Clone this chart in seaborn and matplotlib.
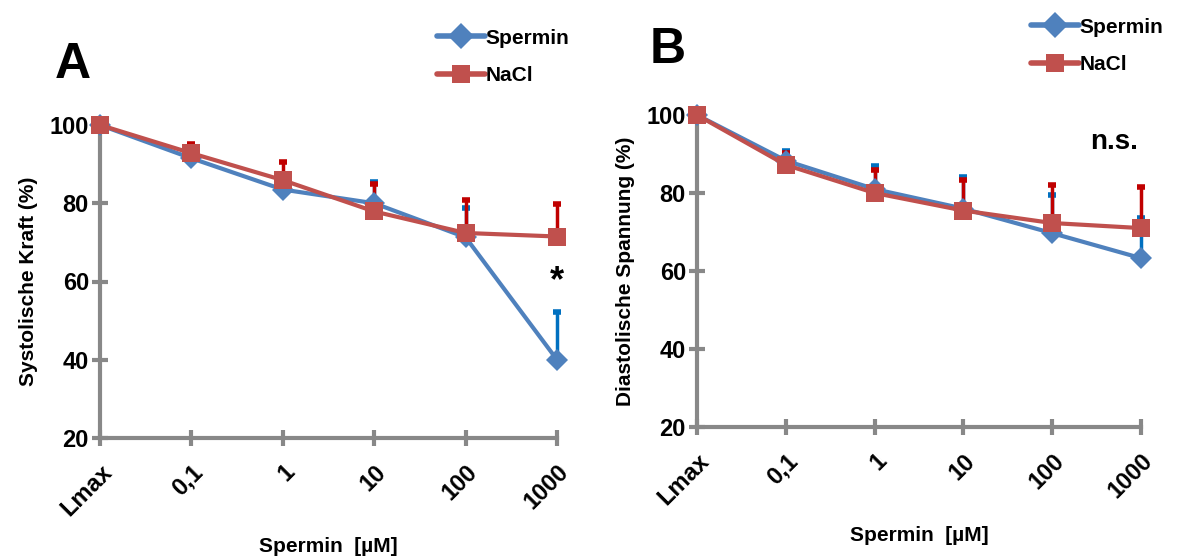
import numpy as np
import pandas as pd
import matplotlib
matplotlib.use("Agg")
import matplotlib.pyplot as plt
import seaborn as sns

sns.set_style("white")
plt.rcParams['font.family'] = ['Liberation Sans Narrow', 'Liberation Sans', 'DejaVu Sans']
plt.rcParams['text.color'] = 'black'
plt.rcParams['axes.labelcolor'] = 'black'
plt.rcParams['xtick.color'] = 'black'
plt.rcParams['ytick.color'] = 'black'

# --- data ---
doses = ['Lmax', '0,1', '1', '10', '100', '1000']

sys_spermin = [100, 91.5, 83.5, 80.0, 71.3, 40.0]
sys_spermin_err = [0, 0.5, 1.0, 5.4, 7.4, 12.3]
sys_nacl = [100, 92.8, 85.9, 77.9, 72.4, 71.5]
sys_nacl_err = [0, 2.4, 4.6, 6.9, 8.5, 8.2]

dia_spermin = [100, 88.3, 81.0, 76.0, 69.7, 63.3]
dia_spermin_err = [0, 2.5, 6.0, 8.0, 9.8, 10.3]
dia_nacl = [100, 87.2, 80.0, 75.5, 72.3, 71.0]
dia_nacl_err = [0, 3.0, 6.0, 7.8, 9.7, 10.5]

BLUE, BLUE_ERR = '#4F81BD', '#0070C0'
RED, RED_ERR = '#C0504D', '#C00000'
GREY = '#888888'


def draw_panel(ax, spermin, sp_err, nacl, na_err, ylabel, xpad):
    pos = np.arange(len(doses))
    df = pd.DataFrame({
        'pos': np.concatenate([pos, pos]),
        'value': spermin + nacl,
        'group': ['Spermin'] * len(doses) + ['NaCl'] * len(doses),
    })
    # upward-only error bars
    for vals, err, col in [(spermin, sp_err, BLUE_ERR), (nacl, na_err, RED_ERR)]:
        ax.errorbar(pos, vals, yerr=[np.zeros(len(err)), err], fmt='none',
                    ecolor=col, elinewidth=2.5, capsize=3, capthick=4,
                    clip_on=False, zorder=2)
    sns.lineplot(data=df, x='pos', y='value', hue='group', style='group',
                 markers={'Spermin': 'D', 'NaCl': 's'}, dashes=False,
                 palette={'Spermin': BLUE, 'NaCl': RED},
                 hue_order=['Spermin', 'NaCl'], style_order=['Spermin', 'NaCl'],
                 linewidth=3, markersize=13, markeredgewidth=0,
                 ax=ax, legend=True, clip_on=False, zorder=3)
    for ln in ax.lines:
        if ln.get_marker() == 'D':
            ln.set_markersize(11)
    ax.set_xlim(0, 5)
    ax.set_ylim(20, 100)
    ax.set_yticks([20, 40, 60, 80, 100])
    ax.set_xticks(pos)
    ax.set_xticklabels(doses, rotation=45, ha='right', rotation_mode='anchor',
                       fontsize=17, fontweight='bold')
    for t in ax.get_yticklabels():
        t.set_fontsize(17)
        t.set_fontweight('bold')
    ax.tick_params(axis='both', direction='inout', length=12, width=3,
                   color=GREY, pad=2, bottom=True, left=True)
    ax.tick_params(axis='x', pad=10)
    for side in ['top', 'right']:
        ax.spines[side].set_visible(False)
    for side in ['left', 'bottom']:
        ax.spines[side].set_color(GREY)
        ax.spines[side].set_linewidth(3)
    ax.set_xlabel('Spermin  [µM]', fontsize=15, fontweight='bold',
                  family=['Liberation Sans', 'DejaVu Sans'], labelpad=xpad)
    ax.set_ylabel(ylabel, fontsize=15, fontweight='bold',
                  family=['Liberation Sans', 'DejaVu Sans'], labelpad=8)
    return ax


fig = plt.figure(figsize=(11.79, 5.6), dpi=100)
ax_a = fig.add_axes([100 / 1179, 1 - 438 / 560, 457 / 1179, 313 / 560])
ax_b = fig.add_axes([697 / 1179, 1 - 427 / 560, 444 / 1179, 312 / 560])

draw_panel(ax_a, sys_spermin, sys_spermin_err, sys_nacl, sys_nacl_err,
           'Systolische Kraft (%)', 12)
draw_panel(ax_b, dia_spermin, dia_spermin_err, dia_nacl, dia_nacl_err,
           'Diastolische Spannung (%)', 12)

for ax, anchor in [(ax_a, (418 / 1179, 1 - 10 / 560)), (ax_b, (1012 / 1179, 1 + 1 / 560))]:
    leg = ax.legend(loc='upper left', bbox_to_anchor=anchor,
                    bbox_transform=fig.transFigure, frameon=False,
                    prop={'weight': 'bold', 'size': 15},
                    handlelength=2.3, handletextpad=0.05, labelspacing=0.9)
    for h in leg.legend_handles:
        h.set_linewidth(4)
        h.set_markersize(13)

# panel letters and significance marks
fig.text(55 / 1179, 1 - 65 / 560, 'A', fontsize=36, fontweight='bold',
         family=['Liberation Sans', 'DejaVu Sans'], va='center')
fig.text(650 / 1179, 1 - 50 / 560, 'B', fontsize=36, fontweight='bold',
         family=['Liberation Sans', 'DejaVu Sans'], va='center')
ax_a.text(5, 60, '*', fontsize=26, fontweight='bold', ha='center', va='center',
          family=['Liberation Sans', 'DejaVu Sans'])
ax_b.text(4.7, 93, 'n.s.', fontsize=20, fontweight='bold', ha='center',
          va='center', family=['Liberation Sans', 'DejaVu Sans'])

fig.savefig('out.png', dpi=100)
